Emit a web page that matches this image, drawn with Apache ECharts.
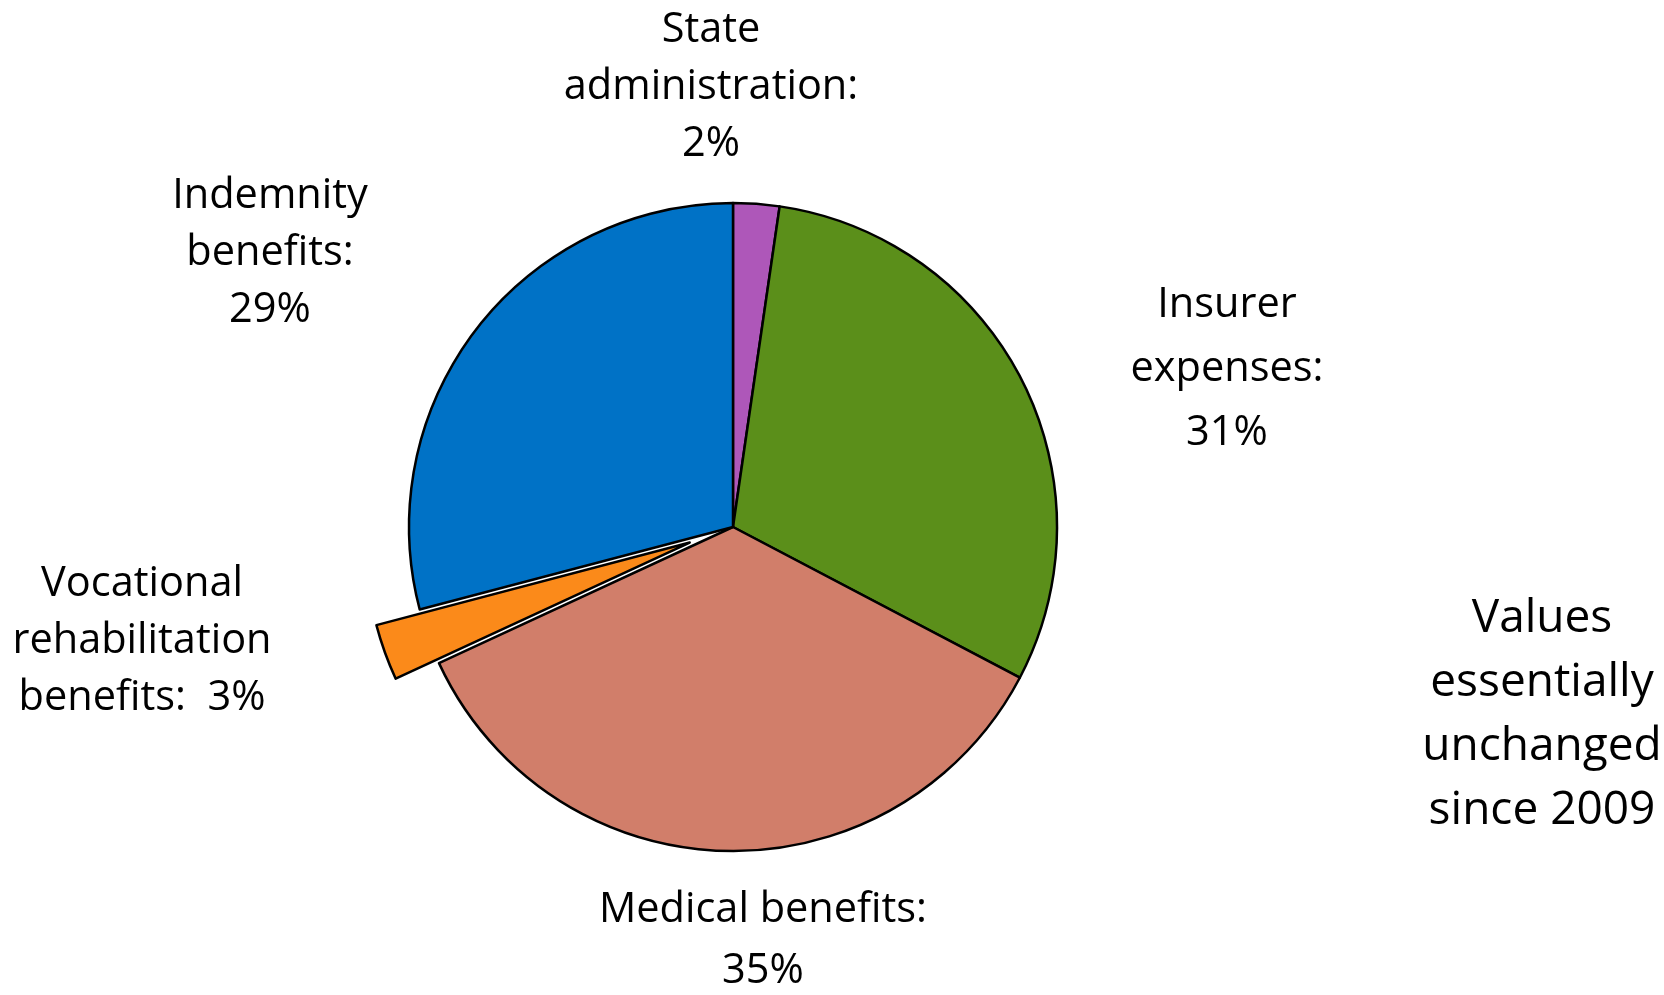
<!DOCTYPE html>
<html><head><meta charset="utf-8">
<script src="https://cdn.jsdelivr.net/npm/echarts@6/dist/echarts.min.js"></script>
<style>html,body{margin:0;padding:0;background:#fff}#c{width:1664px;height:995px}</style>
</head><body><div id="c"></div>
<script>
const categories = ['State administration', 'Insurer expenses', 'Medical benefits', 'Vocational rehabilitation benefits', 'Indemnity benefits'];
const values = [2.3, 30.4, 35.4, 2.8, 29.1];
const labelTexts = ['State\nadministration:\n2%', 'Insurer\nexpenses:\n31%', 'Medical benefits:\n35%', 'Vocational\nrehabilitation\nbenefits:  3%', 'Indemnity\nbenefits:\n29%'];
const colors = ['#AE57B9', '#5B8F1A', '#D17E6A', '#FB8A1A', '#0072C6'];
const noteText = 'Values\nessentially\nunchanged\nsince 2009';

// label centre x, centre y, line height
const labelPos = [[711, 87, 57], [1227, 369, 64], [763, 941, 61], [142, 641, 57], [270, 253, 57]];
const FONT = '"Open Sans"';
const FS = 41.5;
const chart = echarts.init(document.getElementById('c'));
chart.setOption({
  animation: false,
  series: [{
    type: 'pie',
    center: [733, 527],
    radius: [0, 324],
    startAngle: 90,
    clockwise: true,
    selectedMode: 'single',
    selectedOffset: 46,
    avoidLabelOverlap: false,
    itemStyle: { borderColor: '#000', borderWidth: 2.5 },
    labelLine: { show: false },
    label: { show: false },
    emphasis: { disabled: true },
    data: categories.map((n, i) => ({
      name: n,
      value: values[i],
      selected: i === 3,
      itemStyle: { color: colors[i] }
    }))
  }],
  graphic: labelTexts.map((t, i) => ({
    type: 'text',
    x: labelPos[i][0],
    y: labelPos[i][1],
    silent: true,
    style: {
      text: t,
      fill: '#000',
      font: FS + 'px ' + FONT,
      align: 'center',
      verticalAlign: 'middle',
      lineHeight: labelPos[i][2]
    }
  })).concat([{
    type: 'text',
    x: 1542,
    y: 715,
    silent: true,
    style: {
      text: noteText,
      fill: '#000',
      font: '46px ' + FONT,
      align: 'center',
      verticalAlign: 'middle',
      lineHeight: 64
    }
  }])
});
</script></body></html>
